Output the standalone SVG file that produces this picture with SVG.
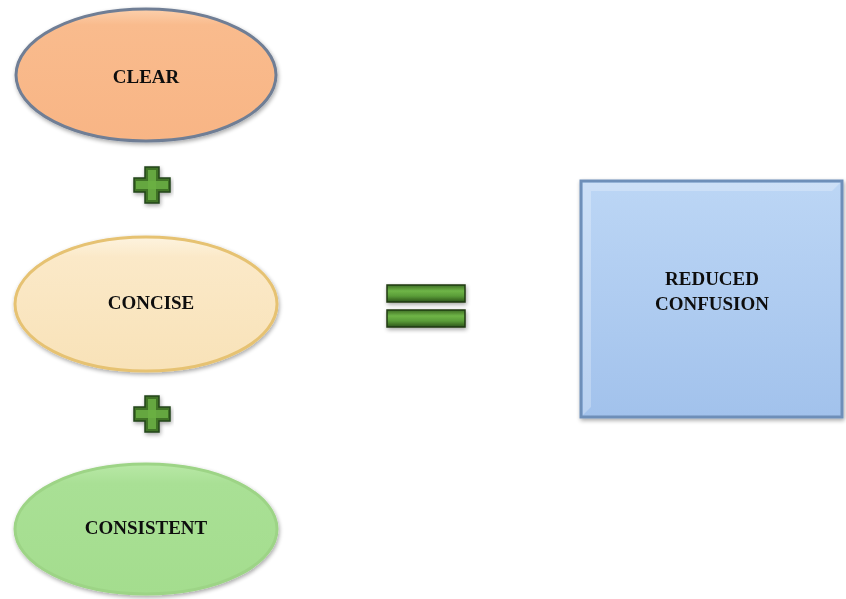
<svg xmlns="http://www.w3.org/2000/svg" width="846" height="599" viewBox="0 0 846 599">
<defs>
<linearGradient id="gClear" x1="0" y1="0" x2="0" y2="1">
<stop offset="0" stop-color="#fcd0ac"/><stop offset="0.12" stop-color="#f9bb8d"/><stop offset="1" stop-color="#f8b585"/>
</linearGradient>
<linearGradient id="gConcise" x1="0" y1="0" x2="0" y2="1">
<stop offset="0" stop-color="#fdf3df"/><stop offset="0.15" stop-color="#fbe9c8"/><stop offset="1" stop-color="#f8e2b8"/>
</linearGradient>
<linearGradient id="gConsist" x1="0" y1="0" x2="0" y2="1">
<stop offset="0" stop-color="#b8e8a6"/><stop offset="0.15" stop-color="#a9e095"/><stop offset="1" stop-color="#a4dd8e"/>
</linearGradient>
<linearGradient id="gBox" x1="0" y1="0" x2="0" y2="1">
<stop offset="0" stop-color="#bcd6f5"/><stop offset="1" stop-color="#a2c2ec"/>
</linearGradient>
<linearGradient id="gGreen" x1="0" y1="0" x2="0" y2="1">
<stop offset="0" stop-color="#3e6e25"/><stop offset="0.35" stop-color="#6fb547"/><stop offset="0.65" stop-color="#5a9c38"/><stop offset="1" stop-color="#2d5419"/>
</linearGradient>
<filter id="sh" x="-10%" y="-10%" width="120%" height="130%">
<feGaussianBlur in="SourceAlpha" stdDeviation="2"/>
<feOffset dx="1" dy="2" result="b"/>
<feComponentTransfer><feFuncA type="linear" slope="0.35"/></feComponentTransfer>
<feMerge><feMergeNode/><feMergeNode in="SourceGraphic"/></feMerge>
</filter>
</defs>
<style>
.lbl{font-family:"Liberation Serif","Times New Roman",serif;font-weight:bold;font-size:19px;fill:#111;text-anchor:middle}
</style>
<rect width="846" height="599" fill="#ffffff"/>
<g id="clear" filter="url(#sh)">
<ellipse cx="146" cy="75" rx="130" ry="66" fill="url(#gClear)" stroke="#6f7e95" stroke-width="3"/>
<text class="lbl" x="146" y="83">CLEAR</text>
</g>
<g id="plus1" filter="url(#sh)">
<path d="M145,167 H159 V178 H170 V192 H159 V203 H145 V192 H134 V178 H145 Z" fill="#3f7326" stroke="#24461a" stroke-width="1.5"/>
<rect x="136" y="181" width="32" height="8" fill="#6cb044" opacity="0.85"/>
<rect x="148" y="170" width="8" height="30" fill="#6cb044" opacity="0.85"/>
</g>
<g id="concise" filter="url(#sh)">
<ellipse cx="146" cy="304" rx="131" ry="67" fill="url(#gConcise)" stroke="#e6c272" stroke-width="3"/>
<text class="lbl" x="151" y="309">CONCISE</text>
</g>
<g id="plus2" filter="url(#sh)">
<path d="M145,396 H159 V407 H170 V421 H159 V432 H145 V421 H134 V407 H145 Z" fill="#3f7326" stroke="#24461a" stroke-width="1.5"/>
<rect x="136" y="410" width="32" height="8" fill="#6cb044" opacity="0.85"/>
<rect x="148" y="399" width="8" height="30" fill="#6cb044" opacity="0.85"/>
</g>
<g id="consistent" filter="url(#sh)">
<ellipse cx="146" cy="529" rx="131" ry="65" fill="url(#gConsist)" stroke="#9dd486" stroke-width="3"/>
<text class="lbl" x="146" y="534">CONSISTENT</text>
</g>
<g id="equals" filter="url(#sh)">
<rect x="387" y="285" width="78" height="17" fill="url(#gGreen)" stroke="#1f3a14" stroke-width="1.5"/>
<rect x="387" y="310" width="78" height="17" fill="url(#gGreen)" stroke="#1f3a14" stroke-width="1.5"/>
</g>
<g id="reduced-confusion" filter="url(#sh)">
<rect x="581" y="181" width="261" height="236" fill="url(#gBox)" stroke="#6e8fb9" stroke-width="3"/>
<path d="M583,183 H840 L832,191 H591 V407 L583,415 Z" fill="#ffffff" opacity="0.25"/>
<text class="lbl" x="712" y="285">REDUCED</text>
<text class="lbl" x="712" y="310">CONFUSION</text>
</g>
<g id="connectors"></g>
</svg>
